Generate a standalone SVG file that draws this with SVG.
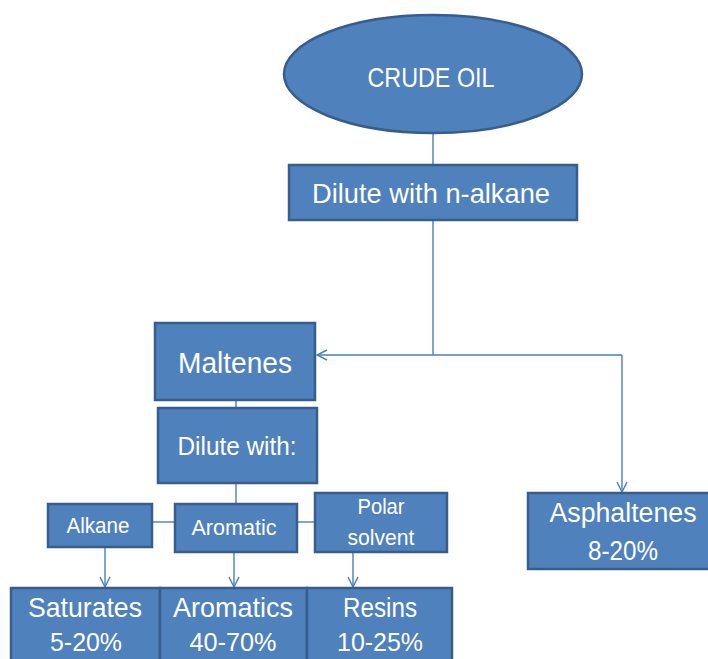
<svg xmlns="http://www.w3.org/2000/svg" width="708" height="659" viewBox="0 0 708 659">
<style>
.n{fill:#4F81BD;stroke:#385D8A;stroke-width:2.5}
.t{fill:#fff;font-family:"Liberation Sans",Arial,sans-serif;text-anchor:middle}
.c{fill:none;stroke:#4A7EBB;stroke-width:1.4}
</style>
<defs>
<marker id="a" viewBox="0 0 12 12" refX="11" refY="6" markerWidth="12" markerHeight="12" markerUnits="userSpaceOnUse" orient="auto">
<path d="M1,1 L11,6 L1,11" fill="none" stroke="#4A7EBB" stroke-width="1.4"/>
</marker>
</defs>
<rect width="708" height="659" fill="#fff"/>
<g id="connectors">
<line class="c" x1="433" y1="133" x2="433" y2="165"/>
<polyline class="c" points="433,220 433,355"/>
<line class="c" x1="622" y1="355" x2="317" y2="355" marker-end="url(#a)"/>
<line class="c" x1="622" y1="355" x2="622" y2="492" marker-end="url(#a)"/>
<line class="c" x1="236" y1="400" x2="236" y2="408"/>
<line class="c" x1="236" y1="483" x2="236" y2="504"/>
<line class="c" x1="152" y1="522" x2="175" y2="522"/>
<line class="c" x1="297" y1="522" x2="315" y2="522"/>
<line class="c" x1="105" y1="547" x2="105" y2="587" marker-end="url(#a)"/>
<line class="c" x1="234" y1="552" x2="234" y2="587" marker-end="url(#a)"/>
<line class="c" x1="353" y1="552" x2="353" y2="587" marker-end="url(#a)"/>
</g>
<g id="crude-oil">
<ellipse class="n" cx="433" cy="74" rx="149" ry="59"/>
<text class="t" x="431" y="87" font-size="28" textLength="127" lengthAdjust="spacingAndGlyphs">CRUDE OIL</text>
</g>
<g id="dilute-n-alkane">
<rect class="n" x="289" y="165" width="288" height="55"/>
<text class="t" x="431" y="203" font-size="28" textLength="238" lengthAdjust="spacingAndGlyphs">Dilute with n-alkane</text>
</g>
<g id="maltenes">
<rect class="n" x="155" y="323" width="160" height="77"/>
<text class="t" x="235" y="373" font-size="29" textLength="114" lengthAdjust="spacingAndGlyphs">Maltenes</text>
</g>
<g id="dilute-with">
<rect class="n" x="158" y="408" width="159" height="75"/>
<text class="t" x="237" y="455" font-size="25" textLength="119" lengthAdjust="spacingAndGlyphs">Dilute with:</text>
</g>
<g id="alkane">
<rect class="n" x="48" y="504" width="104" height="43"/>
<text class="t" x="98" y="533" font-size="22" textLength="63" lengthAdjust="spacingAndGlyphs">Alkane</text>
</g>
<g id="aromatic">
<rect class="n" x="175" y="504" width="122" height="48"/>
<text class="t" x="234" y="535" font-size="22" textLength="85" lengthAdjust="spacingAndGlyphs">Aromatic</text>
</g>
<g id="polar-solvent">
<rect class="n" x="315" y="493" width="132" height="59"/>
<text class="t" x="381" y="514" font-size="22" textLength="47" lengthAdjust="spacingAndGlyphs">Polar</text>
<text class="t" x="381" y="545" font-size="22" textLength="67" lengthAdjust="spacingAndGlyphs">solvent</text>
</g>
<g id="saturates">
<rect class="n" x="11" y="588" width="149" height="90"/>
<text class="t" x="85" y="617" font-size="28" textLength="114" lengthAdjust="spacingAndGlyphs">Saturates</text>
<text class="t" x="86" y="651" font-size="26" textLength="72" lengthAdjust="spacingAndGlyphs">5-20%</text>
</g>
<g id="aromatics">
<rect class="n" x="160" y="588" width="147" height="90"/>
<text class="t" x="233" y="617" font-size="28" textLength="120" lengthAdjust="spacingAndGlyphs">Aromatics</text>
<text class="t" x="233" y="651" font-size="26" textLength="87" lengthAdjust="spacingAndGlyphs">40-70%</text>
</g>
<g id="resins">
<rect class="n" x="307" y="588" width="145" height="90"/>
<text class="t" x="380" y="617" font-size="28" textLength="74" lengthAdjust="spacingAndGlyphs">Resins</text>
<text class="t" x="380" y="651" font-size="26" textLength="86" lengthAdjust="spacingAndGlyphs">10-25%</text>
</g>
<g id="asphaltenes">
<rect class="n" x="528" y="493" width="190" height="76"/>
<text class="t" x="623" y="522" font-size="27" textLength="147" lengthAdjust="spacingAndGlyphs">Asphaltenes</text>
<text class="t" x="623" y="560" font-size="27" textLength="70" lengthAdjust="spacingAndGlyphs">8-20%</text>
</g>
</svg>
